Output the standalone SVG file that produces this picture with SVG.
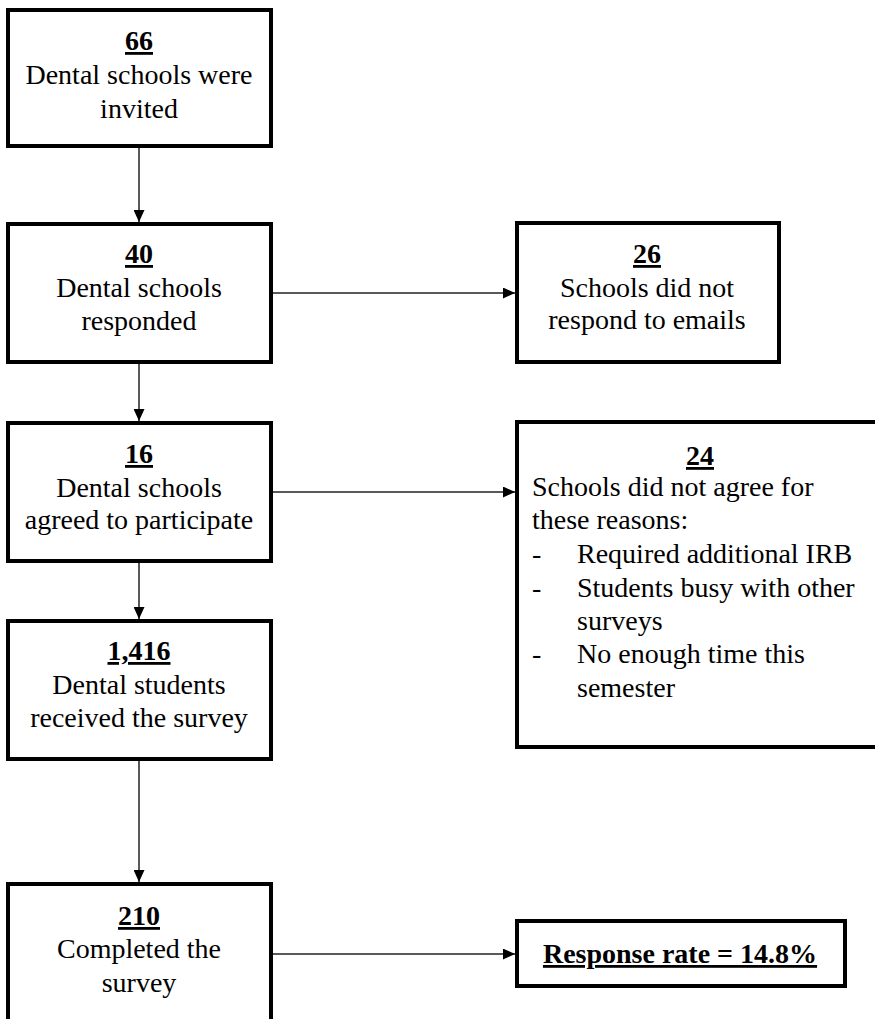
<svg xmlns="http://www.w3.org/2000/svg" width="875" height="1019" viewBox="0 0 875 1019">
<style>
.box{fill:#fff;stroke:#000;stroke-width:4}
.t{font-family:"Liberation Serif","Times New Roman",serif;font-size:28px;fill:#000}
.c{text-anchor:middle}
.n{font-weight:bold;text-decoration:underline}
.conn{stroke:#222;stroke-width:1.5;fill:none;marker-end:url(#ah)}
</style>
<defs>
<marker id="ah" markerUnits="userSpaceOnUse" markerWidth="13" markerHeight="11" refX="12" refY="5.5" orient="auto">
<path d="M0,0 L12,5.5 L0,11 z" fill="#000"/>
</marker>
</defs>
<rect width="875" height="1019" fill="#fff"/>
<g id="connectors">
<line class="conn" x1="139" y1="148" x2="139" y2="222"/>
<line class="conn" x1="139" y1="364" x2="139" y2="421"/>
<line class="conn" x1="139" y1="563" x2="139" y2="619"/>
<line class="conn" x1="139" y1="761" x2="139" y2="882"/>
<line class="conn" x1="273" y1="293" x2="515" y2="293"/>
<line class="conn" x1="273" y1="492" x2="515" y2="492"/>
<line class="conn" x1="273" y1="954" x2="515" y2="954"/>
</g>
<g id="n66">
<rect class="box" x="8" y="10" width="263" height="136"/>
<text class="t c n" x="139" y="50">66</text>
<text class="t c" x="139" y="84">Dental schools were</text>
<text class="t c" x="139" y="118">invited</text>
</g>
<g id="n40">
<rect class="box" x="8" y="224" width="263" height="138"/>
<text class="t c n" x="139" y="263">40</text>
<text class="t c" x="139" y="297">Dental schools</text>
<text class="t c" x="139" y="330">responded</text>
</g>
<g id="n26">
<rect class="box" x="517" y="223" width="262" height="139"/>
<text class="t c n" x="647" y="263">26</text>
<text class="t c" x="647" y="297">Schools did not</text>
<text class="t c" x="647" y="329">respond to emails</text>
</g>
<g id="n16">
<rect class="box" x="8" y="423" width="263" height="138"/>
<text class="t c n" x="139" y="463">16</text>
<text class="t c" x="139" y="497">Dental schools</text>
<text class="t c" x="139" y="529">agreed to participate</text>
</g>
<g id="n24">
<rect class="box" x="517" y="422" width="368" height="325"/>
<text class="t c n" x="700" y="465">24</text>
<text class="t" x="532" y="496">Schools did not agree for</text>
<text class="t" x="532" y="529">these reasons:</text>
<text class="t" x="532" y="563">-</text>
<text class="t" x="577" y="563">Required additional IRB</text>
<text class="t" x="532" y="597">-</text>
<text class="t" x="577" y="597">Students busy with other</text>
<text class="t" x="577" y="630">surveys</text>
<text class="t" x="532" y="663">-</text>
<text class="t" x="577" y="663">No enough time this</text>
<text class="t" x="577" y="697">semester</text>
</g>
<g id="n1416">
<rect class="box" x="8" y="621" width="263" height="138"/>
<text class="t c n" x="139" y="660">1,416</text>
<text class="t c" x="139" y="694">Dental students</text>
<text class="t c" x="139" y="727">received the survey</text>
</g>
<g id="n210">
<rect class="box" x="8" y="884" width="263" height="150"/>
<text class="t c n" x="139" y="925">210</text>
<text class="t c" x="139" y="958">Completed the</text>
<text class="t c" x="139" y="992">survey</text>
</g>
<g id="nrate">
<rect class="box" x="517" y="921" width="328" height="65"/>
<text class="t c n" x="680" y="963">Response rate = 14.8%</text>
</g>
</svg>
